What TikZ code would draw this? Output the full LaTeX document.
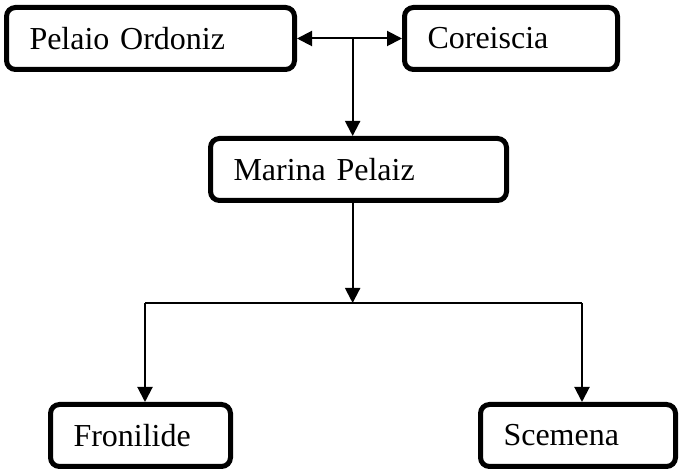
\documentclass[tikz,border=0pt]{standalone}
\usepackage{fontspec}
\setmainfont{Liberation Serif}
\usepackage{tikz}
\usetikzlibrary{arrows.meta,positioning}

\begin{document}
\begin{tikzpicture}[
      x=1pt, y=-1pt,
      person/.style={rectangle, draw=black, line width=5pt, rounded corners=9pt, minimum height=62pt, inner xsep=23pt, align=left, font=\fontsize{32}{38}\selectfont},
      arrow/.style={-{Triangle[length=15pt,width=15pt]}, line width=2pt},
      twoway/.style={{Triangle[length=15pt,width=15pt]}-{Triangle[length=15pt,width=15pt]}, line width=2pt},
      bus/.style={line width=2pt}
    ]
    \useasboundingbox (0,0) rectangle (681,470);
    \node[person, text width=242pt, anchor=north west] (pelaio) at (4,5) {Pelaio Ordoniz};
    \node[person, text width=167pt, right=105pt of pelaio] (coreiscia) {Coreiscia};
    \node[person, text width=250pt, anchor=north west] (marina) at (208,136) {Marina Pelaiz};
    \node[person, text width=134pt, anchor=north west] (fronilide) at (48,402) {Fronilide};
    \node[person, text width=149pt, right=245pt of fronilide] (scemena) {Scemena};

    \draw[twoway] (pelaio) -- (coreiscia) coordinate[pos=0.53] (junction);
    \draw[arrow] (junction) -- (junction |- marina.north);
    \coordinate (split) at (junction |- 0,303);
    \coordinate (splitleft) at (145,303);
    \coordinate (splitright) at (582,303);
    \draw[arrow] (junction |- marina.south) -- (split);
    \draw[bus] (splitleft) -- (splitright);
    \draw[arrow] (splitleft) -- (splitleft |- fronilide.north);
    \draw[arrow] (splitright) -- (splitright |- scemena.north);
  \end{tikzpicture}
\end{document}
